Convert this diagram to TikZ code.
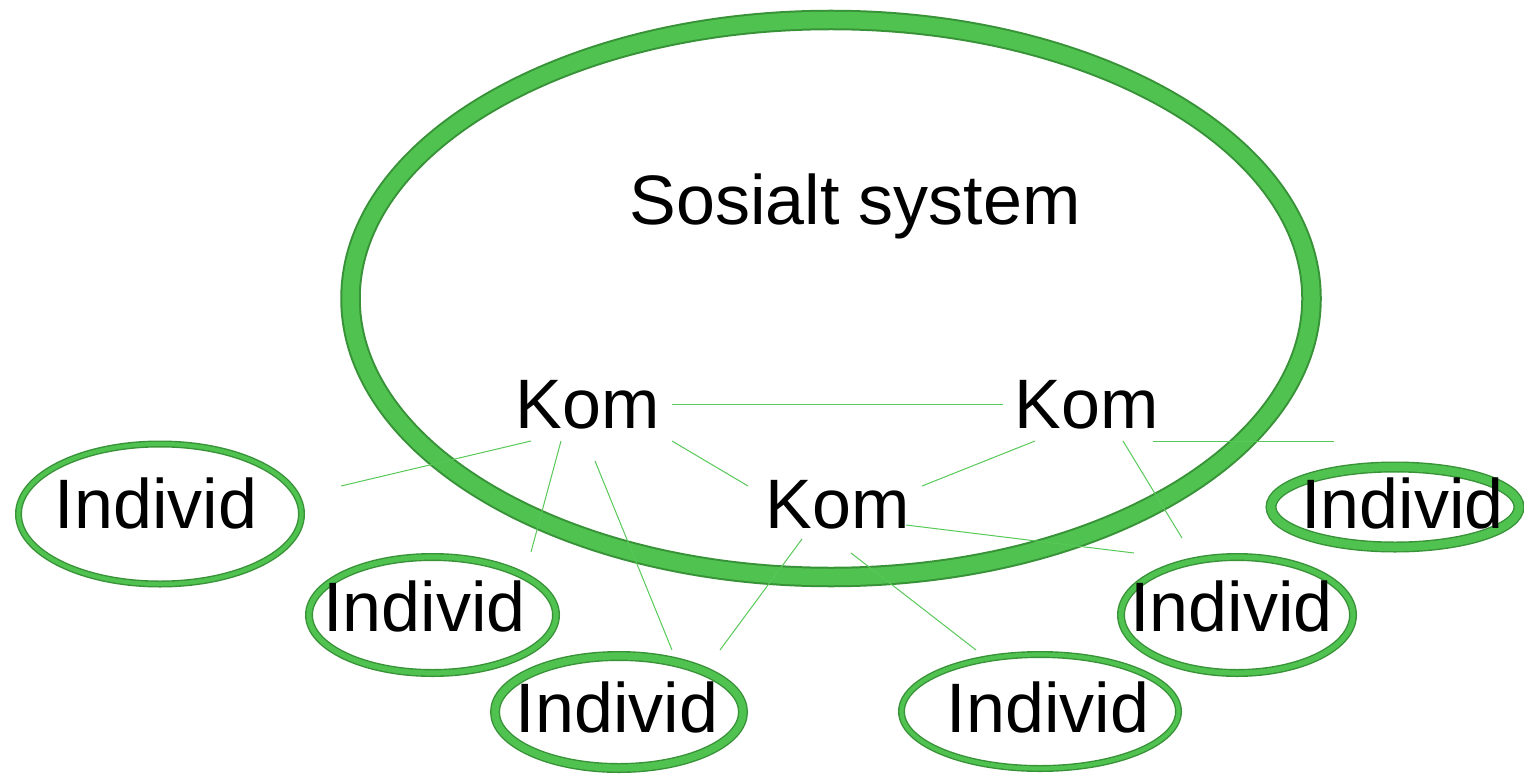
\documentclass[tikz,border=0pt]{standalone}
\usepackage{fontspec}
\setmainfont{Liberation Sans}
\definecolor{ringlight}{RGB}{80,194,80}
\definecolor{ringdark}{RGB}{56,146,56}
\definecolor{linkgreen}{RGB}{88,200,88}
\begin{document}
\begin{tikzpicture}[x=0.5pt,y=-0.5pt,
  ring/.style={draw=ringdark, line width=0.7pt, double=ringlight},
  lbl/.style={inner sep=0pt, anchor=base, font=\fontsize{35pt}{40pt}\selectfont},
  link/.style={draw=linkgreen, line width=0.5pt}]
\useasboundingbox (0,0) rectangle (1524,775);
% big ring
\draw[ring, line width=1pt, double distance=8.25pt] (831,298.5) ellipse [x radius=240.25pt, y radius=139.25pt];
% small rings
\draw[ring, double distance=2.1pt] (160,514) ellipse [x radius=70.75pt, y radius=35pt];
\draw[ring, double distance=2.6pt] (432.5,615) ellipse [x radius=61.75pt, y radius=29pt];
\draw[ring, double distance=3.6pt] (619,712) ellipse [x radius=62pt, y radius=28pt];
\draw[ring, double distance=2.1pt] (1040,711.5) ellipse [x radius=69.25pt, y radius=28.5pt];
\draw[ring, double distance=2.6pt] (1237,615) ellipse [x radius=58pt, y radius=29pt];
\draw[ring, double distance=4.1pt] (1395,507) ellipse [x radius=62pt, y radius=20pt];
% texts
\node[lbl] (sys) at (855,225) {Sosialt system};
\node[lbl] (kom1) at (587.5,428) {Kom};
\node[lbl] (kom2) at (1086.5,428) {Kom};
\node[lbl] (kom3) at (837.5,528) {Kom};
\node[lbl] (ind1) at (156,528) {Individ};
\node[lbl] (ind2) at (424.5,631) {Individ};
\node[lbl] (ind3) at (617,732) {Individ};
\node[lbl] (ind4) at (1048,732) {Individ};
\node[lbl] (ind5) at (1231.5,631) {Individ};
\node[lbl] (ind6) at (1402.5,528) {Individ};
% link end points
\coordinate (a1) at (672,404);   \coordinate (a2) at (1003,404);
\coordinate (b1) at (531,441);   \coordinate (b2) at (341,486);
\coordinate (c1) at (561,441);   \coordinate (c2) at (531,552);
\coordinate (d1) at (595,461);   \coordinate (d2) at (672,650);
\coordinate (e1) at (672,441);   \coordinate (e2) at (748,486);
\coordinate (f1) at (1035,441);  \coordinate (f2) at (922,486);
\coordinate (g1) at (1153,441);  \coordinate (g2) at (1334,441);
\coordinate (h1) at (1123,441);  \coordinate (h2) at (1182,538);
\coordinate (i1) at (906,525);   \coordinate (i2) at (1134,553);
\coordinate (j1) at (802,539);   \coordinate (j2) at (720,650);
\coordinate (k1) at (851,553);   \coordinate (k2) at (976,650);
\foreach \s in {a,b,c,d,e,f,g,h,i,j,k}{\draw[link] (\s1) -- (\s2);}
\end{tikzpicture}
\end{document}
